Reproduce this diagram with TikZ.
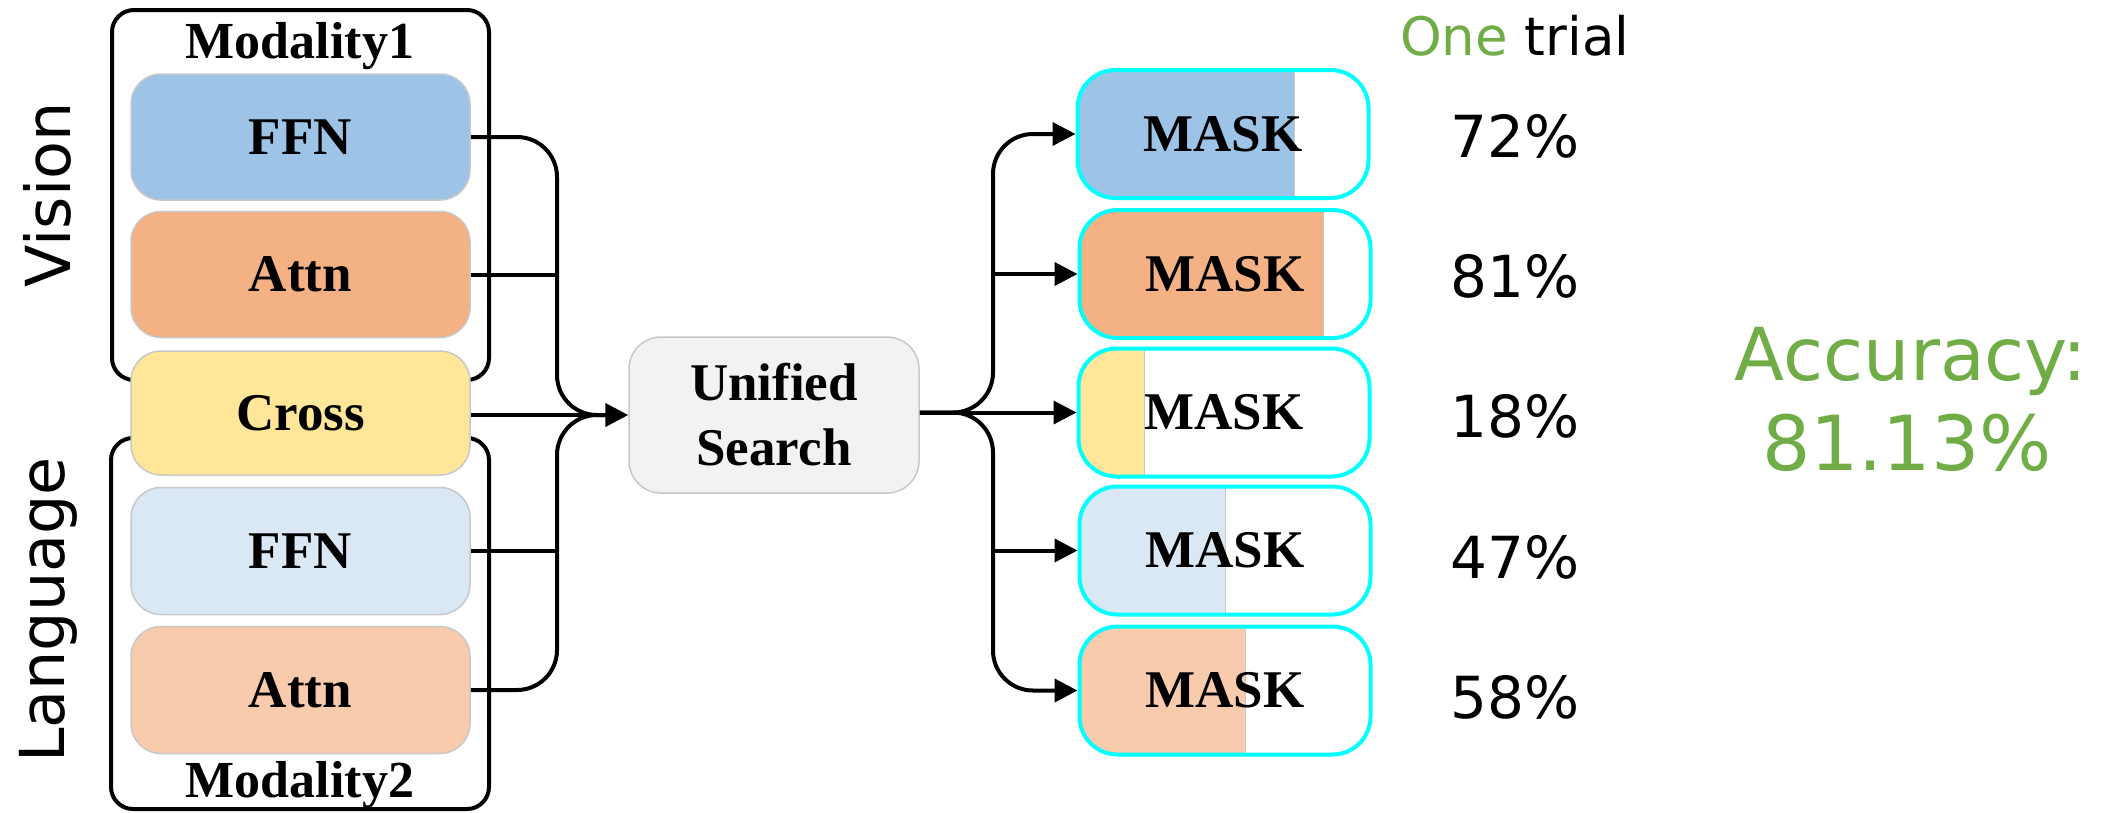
\documentclass[tikz,border=0pt]{standalone}
\usepackage{fontspec}
\setmainfont{Liberation Serif}
\newfontfamily\labelsans{DejaVu Sans}
\usetikzlibrary{arrows.meta}

\definecolor{ffnA}{HTML}{9DC3E6}
\definecolor{attnA}{HTML}{F4B183}
\definecolor{crossc}{HTML}{FFE699}
\definecolor{ffnB}{HTML}{DAE8F5}
\definecolor{attnB}{HTML}{F8CBAD}
\definecolor{searchc}{HTML}{F2F2F2}
\definecolor{edgegray}{HTML}{C8C8C8}
\definecolor{maskedge}{HTML}{00FFFF}
\definecolor{accgreen}{HTML}{70AD47}

\tikzset{
  block/.style={rounded corners=30pt, draw=edgegray, line width=1.5pt,
    minimum width=339pt, minimum height=126pt, inner sep=0pt,
    font=\fontsize{53}{60}\selectfont\bfseries},
  group/.style={draw=black, line width=4pt, rounded corners=22pt, inner sep=0pt},
  modlabel/.style={font=\fontsize{52}{60}\selectfont\bfseries, inner sep=0pt},
  sidelabel/.style={font=\labelsans\fontsize{62}{70}\selectfont, inner sep=0pt},
  pct/.style={font=\labelsans\fontsize{58}{66}\selectfont, inner sep=0pt},
  wire/.style={draw=black, line width=4pt},
  tip/.style={-{Triangle[length=23pt,width=23pt]}},
  maskbox/.style 2 args={draw=maskedge, line width=4pt, rounded corners=38pt,
    minimum width=291pt, minimum height=128pt, inner sep=0pt, fill=white,
    font=\fontsize{53}{60}\selectfont\bfseries,
    path picture={
      \fill[#1, sharp corners] (path picture bounding box.north west) rectangle
        ([xshift=#2]path picture bounding box.south west);
      \draw[edgegray, line width=1.5pt, sharp corners]
        ([xshift=#2]path picture bounding box.north west) --
        ([xshift=#2]path picture bounding box.south west);
    }},
}

\begin{document}
\begin{tikzpicture}[x=1pt, y=-1pt]
\useasboundingbox[fill=white] (0,0) rectangle (2118,812);

% modality frames
\node[group, minimum width=377pt, minimum height=370pt] (mod1) at (300.5,195) {};
\node[group, minimum width=378pt, minimum height=371pt] (mod2) at (300,623.5) {};
\node[modlabel, anchor=base] (mod1lbl) at (300,58) {Modality1};
\node[modlabel, anchor=base] (mod2lbl) at (300,797) {Modality2};

% side labels
\node[sidelabel, rotate=90, anchor=base] (vis) at (70,195) {Vision};
\node[sidelabel, rotate=90, anchor=base] (lang) at (64,610) {Language};

% layer blocks
\node[block, fill=ffnA] (ffn1) at (300.5,137) {FFN};
\node[block, fill=attnA] (attn1) at (300.5,274.5) {Attn};
\node[block, fill=crossc, minimum height=124pt] (cross) at (300.5,413) {Cross};
\node[block, fill=ffnB, minimum height=127pt] (ffn2) at (300.5,551) {FFN};
\node[block, fill=attnB, minimum height=127pt] (attn2) at (300.5,690) {Attn};

% search block
\node[rounded corners=32pt, draw=edgegray, line width=1.5pt, fill=searchc,
  minimum width=290pt, minimum height=156pt, inner sep=0pt, align=center,
  font=\fontsize{53}{65}\selectfont\bfseries] (us) at (774,415) {Unified\\Search};

% masked candidates
\node[maskbox={ffnA}{217pt}] (m1) at (1223,134) {MASK};
\node[maskbox={attnA}{244pt}] (m2) at (1225,274) {MASK};
\node[maskbox={crossc}{66pt}] (m3) at (1224,412.5) {MASK};
\node[maskbox={ffnB}{146pt}] (m4) at (1225,550.5) {MASK};
\node[maskbox={attnB}{166pt}] (m5) at (1225,690.5) {MASK};

% bus coordinates
\coordinate (lbus) at (557,415);
\coordinate (lmerge) at (612,415);
\coordinate (rbus) at (993,412.5);

% left connectors
\draw[wire, rounded corners=40pt] (ffn1.east) -- (lbus |- ffn1.east) -- (lbus |- us.west) -- (lmerge);
\draw[wire] (attn1.east) -- (lbus |- attn1.east);
\draw[wire, tip] (cross.east |- us.west) -- (us.west);
\draw[wire] (ffn2.east) -- (lbus |- ffn2.east);
\draw[wire, rounded corners=40pt] (attn2.east) -- (lbus |- attn2.east) -- (lbus |- us.west) -- (lmerge);

% right connectors
\draw[wire, tip, rounded corners=40pt] (us.east |- m3.west) -- (rbus |- m3.west) -- (rbus |- m1.west) -- (m1.west);
\draw[wire, tip] (rbus |- m2.west) -- (m2.west);
\draw[wire, tip] (us.east |- m3.west) -- (m3.west);
\draw[wire, tip] (rbus |- m4.west) -- (m4.west);
\draw[wire, tip, rounded corners=40pt] (us.east |- m3.west) -- (rbus |- m3.west) -- (rbus |- m5.west) -- (m5.west);

% scores
\node[font=\labelsans\fontsize{53}{60}\selectfont, inner sep=0pt, anchor=base west] (trial) at (1400,55) {\textcolor{accgreen}{One} trial};
\node[pct, anchor=base] (p1) at (1515,157) {72\%};
\node[pct, anchor=base] (p2) at (1515,297) {81\%};
\node[pct, anchor=base] (p3) at (1515,437) {18\%};
\node[pct, anchor=base] (p4) at (1515,578) {47\%};
\node[pct, anchor=base] (p5) at (1515,718) {58\%};

\node[font=\labelsans\fontsize{73}{80}\selectfont, text=accgreen, inner sep=0pt, anchor=base] (acc1) at (1911,380) {Accuracy:};
\node[font=\labelsans\fontsize{76}{80}\selectfont, text=accgreen, inner sep=0pt, anchor=base] (acc2) at (1907,470) {81.13\%};
\end{tikzpicture}
\end{document}
